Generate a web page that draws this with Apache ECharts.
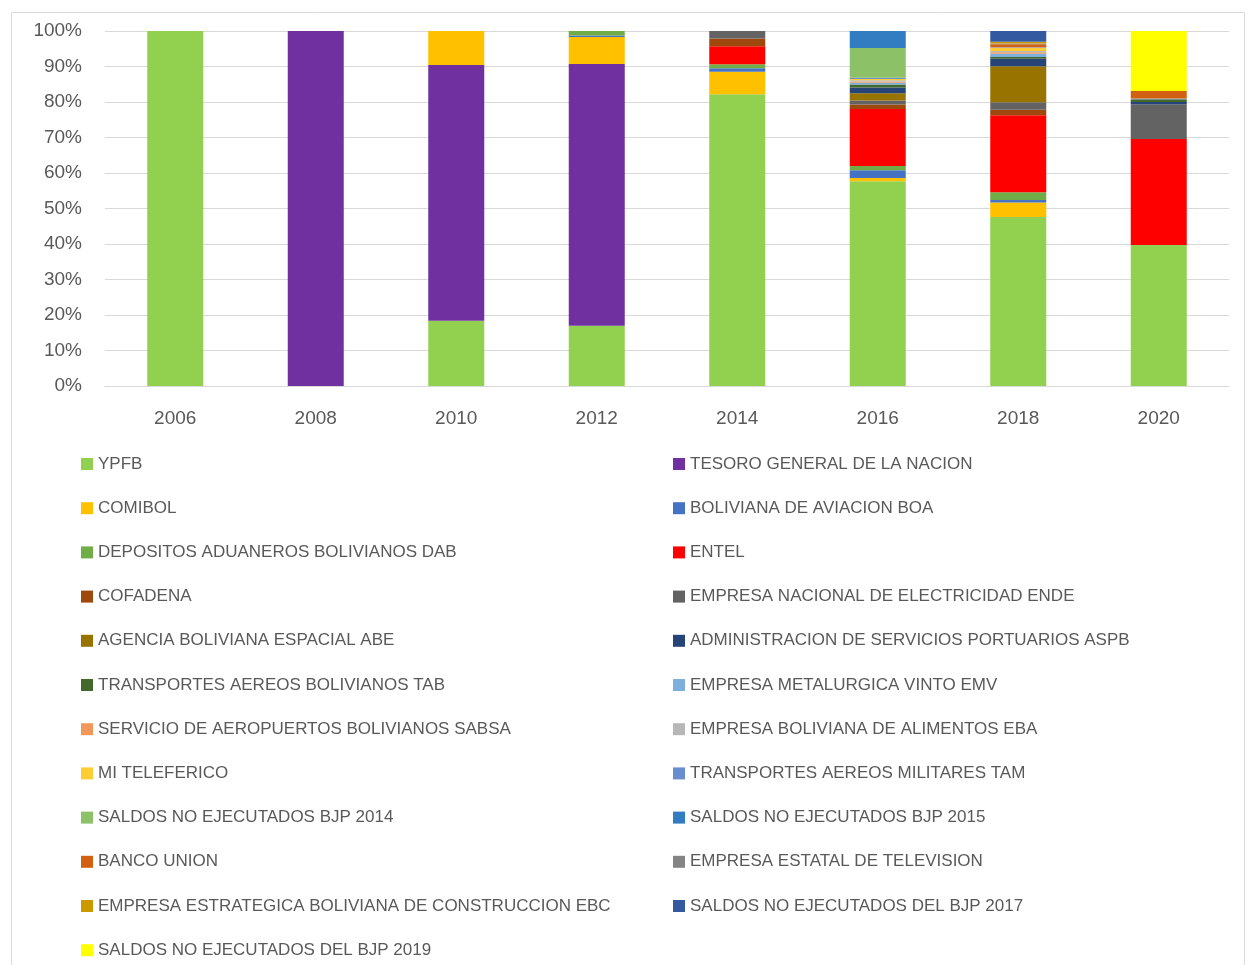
<!DOCTYPE html>
<html>
<head>
<meta charset="utf-8">
<script src="https://cdn.jsdelivr.net/npm/echarts@6/dist/echarts.min.js"></script>
<style>
  html, body { margin: 0; padding: 0; background: #fff; }
  #chart { width: 1248px; height: 965px; }
</style>
</head>
<body>
<div id="chart"></div>
<script>
// años (categorías)
const years = ['2006', '2008', '2010', '2012', '2014', '2016', '2018', '2020']

// participación por entidad, en %
const ypfb = [100, 0, 18.4, 17.0, 82.2, 57.7, 47.6, 39.7]
const tgn = [0, 100, 72.0, 73.7, 0, 0, 0, 0]
const comibol = [0, 0, 9.6, 7.6, 6.3, 0.9, 4.1, 0]
const boa = [0, 0, 0, 0.4, 1.0, 2.2, 0.7, 0]
const dab = [0, 0, 0, 1.3, 1.1, 1.2, 2.2, 0]
const entel = [0, 0, 0, 0, 5.1, 16.0, 21.7, 29.9]
const cofadena = [0, 0, 0, 0, 2.2, 1.3, 1.5, 0]
const ende = [0, 0, 0, 0, 2.1, 1.1, 2.1, 9.8]
const abe = [0, 0, 0, 0, 0, 2.1, 10.2, 0]
const aspb = [0, 0, 0, 0, 0, 1.6, 2.1, 0.6]
const tab = [0, 0, 0, 0, 0, 0.8, 0.5, 0.8]
const emv = [0, 0, 0, 0, 0, 0.5, 0.9, 0.2]
const sabsa = [0, 0, 0, 0, 0, 0.4, 0.4, 0]
const eba = [0, 0, 0, 0, 0, 0.3, 0.4, 0]
const miTeleferico = [0, 0, 0, 0, 0, 0.4, 0.9, 0]
const tam = [0, 0, 0, 0, 0, 0.3, 0.1, 0]
const saldos2014 = [0, 0, 0, 0, 0, 8.4, 0, 0]
const saldos2015 = [0, 0, 0, 0, 0, 4.8, 0, 0]
const bancoUnion = [0, 0, 0, 0, 0, 0, 0.9, 2.1]
const eetv = [0, 0, 0, 0, 0, 0, 0.2, 0]
const ebc = [0, 0, 0, 0, 0, 0, 0.5, 0]
const saldos2017 = [0, 0, 0, 0, 0, 0, 3.0, 0]
const saldos2019 = [0, 0, 0, 0, 0, 0, 0, 16.9]

const yTicks = [0, 10, 20, 30, 40, 50, 60, 70, 80, 90, 100]

const seriesDefs = [
  ['YPFB', ypfb, '#92D050'],
  ['TESORO GENERAL DE LA NACION', tgn, '#7030A0'],
  ['COMIBOL', comibol, '#FFC000'],
  ['BOLIVIANA DE AVIACION BOA', boa, '#4472C4'],
  ['DEPOSITOS ADUANEROS BOLIVIANOS DAB', dab, '#70AD47'],
  ['ENTEL', entel, '#FF0000'],
  ['COFADENA', cofadena, '#9E480E'],
  ['EMPRESA NACIONAL DE ELECTRICIDAD ENDE', ende, '#636363'],
  ['AGENCIA BOLIVIANA ESPACIAL ABE', abe, '#997300'],
  ['ADMINISTRACION DE SERVICIOS PORTUARIOS ASPB', aspb, '#264478'],
  ['TRANSPORTES AEREOS BOLIVIANOS TAB', tab, '#43682B'],
  ['EMPRESA METALURGICA VINTO EMV', emv, '#7CAFDD'],
  ['SERVICIO DE AEROPUERTOS BOLIVIANOS SABSA', sabsa, '#F1975A'],
  ['EMPRESA BOLIVIANA DE ALIMENTOS EBA', eba, '#B7B7B7'],
  ['MI TELEFERICO', miTeleferico, '#FFCD33'],
  ['TRANSPORTES AEREOS MILITARES TAM', tam, '#698ED0'],
  ['SALDOS NO EJECUTADOS BJP 2014', saldos2014, '#8CC168'],
  ['SALDOS NO EJECUTADOS BJP 2015', saldos2015, '#327DC2'],
  ['BANCO UNION', bancoUnion, '#D26012'],
  ['EMPRESA ESTATAL DE TELEVISION', eetv, '#848484'],
  ['EMPRESA ESTRATEGICA BOLIVIANA DE CONSTRUCCION EBC', ebc, '#CC9A00'],
  ['SALDOS NO EJECUTADOS DEL BJP 2017', saldos2017, '#335AA1'],
  ['SALDOS NO EJECUTADOS DEL BJP 2019', saldos2019, '#FFFF00']
]

const names = seriesDefs.map(d => d[0])
const leftNames = names.filter((n, i) => i % 2 === 0)
const rightNames = names.filter((n, i) => i % 2 === 1)

const font = '"Liberation Sans", Arial, sans-serif'
const legendBase = {
  orient: 'vertical',
  top: 454,
  height: 511,
  padding: 0,
  icon: 'rect',
  itemWidth: 12,
  itemHeight: 12,
  itemGap: 24.2,
  selectedMode: false,
  textStyle: { color: '#595959', fontSize: 17, fontFamily: font, lineHeight: 20 }
}

const chart = echarts.init(document.getElementById('chart'))

chart.setOption({
  animation: false,
  graphic: [{
    type: 'rect',
    shape: { x: 11.5, y: 12.5, width: 1233, height: 980 },
    style: { fill: 'none', stroke: '#d9d9d9', lineWidth: 1 },
    silent: true
  }],
  grid: { left: 105, right: 19, top: 31, height: 355 },
  legend: [
    Object.assign({}, legendBase, { left: 81, data: leftNames }),
    Object.assign({}, legendBase, { left: 673, data: rightNames })
  ],
  xAxis: {
    type: 'category',
    data: years,
    axisTick: { show: false },
    axisLine: { lineStyle: { color: '#d9d9d9', width: 1 } },
    axisLabel: { color: '#595959', fontSize: 19, fontFamily: font, margin: 23 }
  },
  yAxis: {
    type: 'value',
    min: yTicks[0],
    max: yTicks[yTicks.length - 1],
    interval: 10,
    axisLine: { show: false },
    axisTick: { show: false },
    axisLabel: { color: '#595959', fontSize: 19, fontFamily: font, margin: 23, formatter: '{value}%' },
    splitLine: { lineStyle: { color: '#d9d9d9', width: 1 } }
  },
  series: seriesDefs.map(d => ({
    name: d[0],
    type: 'bar',
    stack: 'total',
    barWidth: 56,
    data: d[1],
    itemStyle: { color: d[2] }
  }))
})
</script>
</body>
</html>
